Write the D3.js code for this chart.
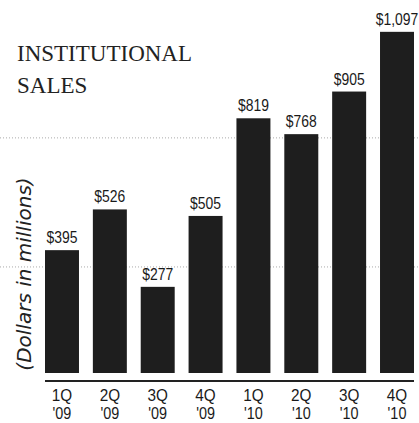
<!DOCTYPE html>
<html>
<head>
<meta charset="utf-8">
<script src="https://cdn.jsdelivr.net/npm/d3@7"></script>
<style>
  html, body { margin: 0; padding: 0; background: #fff; }
  svg { display: block; }
</style>
</head>
<body>
<svg id="chart" width="419" height="423"></svg>
<script>
const quarters = ["1Q", "2Q", "3Q", "4Q", "1Q", "2Q", "3Q", "4Q"];
const years = ["'09", "'09", "'09", "'09", "'10", "'10", "'10", "'10"];
const sales = [395, 526, 277, 505, 819, 768, 905, 1097];
const valueLabels = ["$395", "$526", "$277", "$505", "$819", "$768", "$905", "$1,097"];
const gridValues = [756, 341];
const titleLines = ["INSTITUTIONAL", "SALES"];
const axisTitle = "(Dollars in millions)";

const svg = d3.select("#chart");
const ids = d3.range(sales.length);

const x = d3.scaleBand().domain(ids).range([45, 414]).paddingInner(0.29).paddingOuter(0);
const y = d3.scaleLinear().domain([0, 1100]).range([373, 30.9]);

const labelFont = "'Liberation Sans', Arial, sans-serif";

// dotted gridlines
svg.append("g").selectAll("line").data(gridValues).join("line")
  .attr("x1", 0).attr("x2", 419)
  .attr("y1", d => y(d)).attr("y2", d => y(d))
  .attr("stroke", "#aaa").attr("stroke-width", 1)
  .attr("stroke-dasharray", "1,2");

// title
svg.append("g").selectAll("text").data(titleLines).join("text")
  .attr("x", 17).attr("y", (d, i) => 61 + i * 32)
  .attr("font-family", "'Liberation Serif', 'Times New Roman', serif")
  .attr("font-size", 23)
  .attr("fill", "#222")
  .text(d => d);

// bars
svg.append("g").selectAll("rect").data(ids).join("rect")
  .attr("x", i => x(i)).attr("width", x.bandwidth())
  .attr("y", i => y(sales[i])).attr("height", i => y(0) - y(sales[i]))
  .attr("fill", "#1e1e1e");

// value labels (condensed horizontally)
svg.append("g").selectAll("text").data(ids).join("text")
  .attr("transform", i => `translate(${x(i) + x.bandwidth() / 2},${y(sales[i]) - 7}) scale(0.82,1)`)
  .attr("text-anchor", "middle")
  .attr("font-family", labelFont)
  .attr("font-size", 17)
  .attr("fill", "#1a1a1a")
  .text(i => valueLabels[i]);

// x axis line
svg.append("line")
  .attr("x1", x.range()[0]).attr("x2", x.range()[1])
  .attr("y1", 381).attr("y2", 381)
  .attr("stroke", "#222").attr("stroke-width", 2);

// category labels
const cat = svg.append("g").selectAll("g").data(ids).join("g")
  .attr("transform", i => `translate(${x(i) + x.bandwidth() / 2},0)`);
cat.append("text")
  .attr("transform", "translate(0,401) scale(0.9,1)")
  .attr("text-anchor", "middle")
  .attr("font-family", labelFont).attr("font-size", 17).attr("fill", "#1a1a1a")
  .text(i => quarters[i]);
cat.append("text")
  .attr("transform", "translate(0,419) scale(0.9,1)")
  .attr("text-anchor", "middle")
  .attr("font-family", labelFont).attr("font-size", 16).attr("fill", "#1a1a1a")
  .text(i => years[i]);

// y axis title
svg.append("text")
  .attr("transform", `translate(31,${274}) rotate(-90)`)
  .attr("text-anchor", "middle")
  .attr("font-family", "'DejaVu Sans', sans-serif")
  .attr("font-style", "italic")
  .attr("font-size", 20)
  .attr("fill", "#222")
  .text(axisTitle);
</script>
</body>
</html>
